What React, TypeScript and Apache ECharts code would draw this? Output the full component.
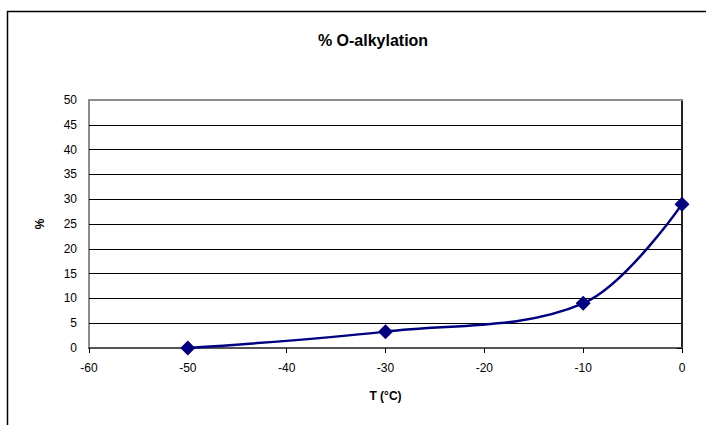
import React, { useEffect, useRef } from "react";
import * as echarts from "echarts";

const temps = [-50, -30, -10, 0];
const oAlkylation = [0, 3.3, 9, 29];
const title = "% O-alkylation";
const xName = "T (°C)";
const yName = "%";

export default function App() {
  const ref = useRef<HTMLDivElement>(null);
  useEffect(() => {
    const chart = echarts.init(ref.current!, null, { renderer: "svg" });
    const font = "'Liberation Sans', Arial, sans-serif";
    chart.setOption({
      animation: false,
      backgroundColor: "#ffffff",
      title: {
        text: title,
        left: 368,
        top: 27,
        textAlign: "center",
        textStyle: { fontFamily: font, fontSize: 16, fontWeight: "bold", color: "#000" },
      },
      graphic: [
        {
          type: "rect",
          shape: { x: 7.5, y: 11.5, width: 760, height: 480 },
          style: { fill: "none", stroke: "#000", lineWidth: 1.5 },
          silent: true,
        },
      ],
      grid: {
        left: 89,
        right: 24,
        top: 100,
        bottom: 77,
        show: true,
        borderColor: "#8c8c8c",
        borderWidth: 2,
        backgroundColor: "transparent",
      },
      xAxis: [
        {
          type: "value",
          min: -60,
          max: 0,
          interval: 10,
          name: xName,
          nameLocation: "middle",
          nameGap: 42,
          nameTextStyle: { fontFamily: font, fontSize: 12, fontWeight: "bold", color: "#000" },
          axisLine: { show: true, onZero: false, lineStyle: { color: "#555", width: 2 } },
          axisTick: { show: true, inside: false, length: 5, lineStyle: { color: "#000" } },
          axisLabel: { fontFamily: font, fontSize: 12, color: "#000", margin: 14 },
          splitLine: { show: false },
        },
        {
          type: "value",
          position: "top",
          min: -60,
          max: 0,
          interval: 10,
          axisLine: { show: true, onZero: false, lineStyle: { color: "#8c8c8c", width: 2 } },
          axisTick: { show: false },
          axisLabel: { show: false },
          splitLine: { show: false },
          z: 5,
        },
      ],
      yAxis: {
        type: "value",
        min: 0,
        max: 50,
        interval: 5,
        name: yName,
        nameLocation: "middle",
        nameGap: 43,
        nameRotate: 90,
        nameTextStyle: { fontFamily: font, fontSize: 12, fontWeight: "bold", color: "#000" },
        axisLine: { show: true, lineStyle: { color: "#000", width: 1.5 } },
        axisTick: { show: true, inside: false, length: 5, lineStyle: { color: "#000" } },
        axisLabel: { fontFamily: font, fontSize: 12, color: "#000", margin: 12 },
        splitLine: { show: true, lineStyle: { color: "#000", width: 1 } },
      },
      series: [
        {
          type: "line",
          xAxisIndex: 0,
          data: temps.map((t, i) => [t, oAlkylation[i]]),
          smooth: 0.35,
          symbol: "diamond",
          symbolSize: 15,
          itemStyle: { color: "#000080" },
          lineStyle: { color: "#000080", width: 2.5 },
          z: 10,
        },
      ],
    });
    return () => chart.dispose();
  }, []);
  return (
    <div
      ref={ref}
      style={{ position: "fixed", left: 0, top: 0, width: 706, height: 425 }}
    />
  );
}
